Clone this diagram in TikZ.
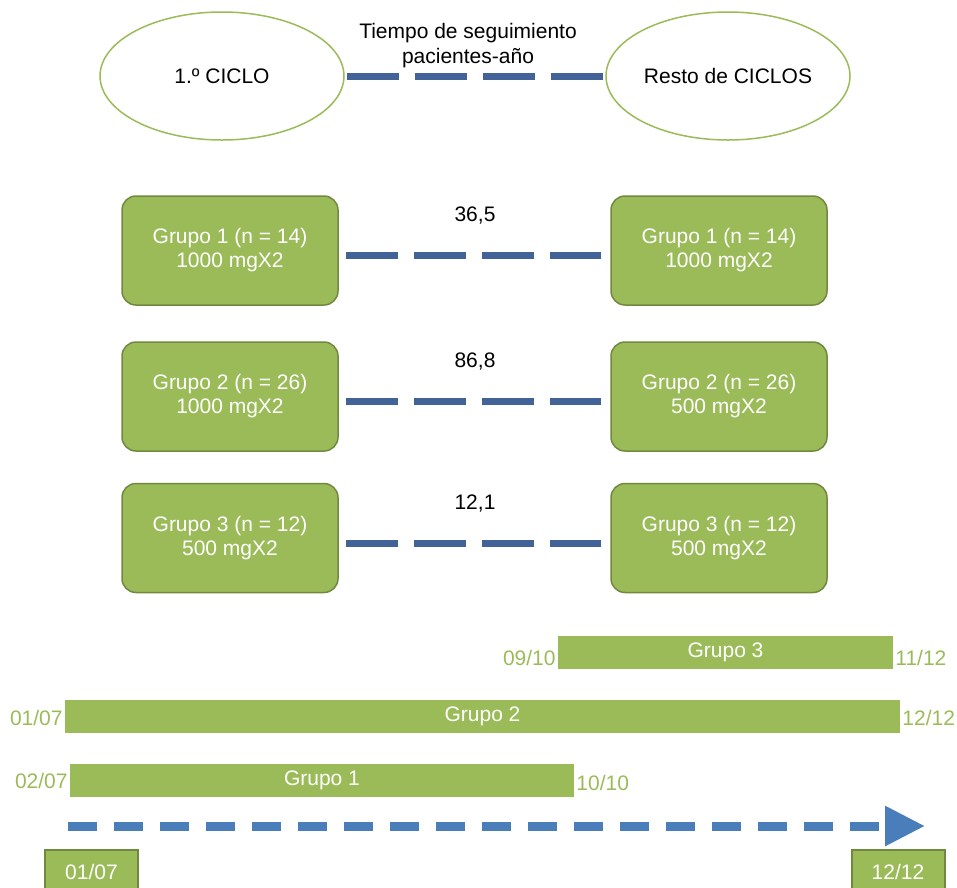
\documentclass[tikz,border=0pt]{standalone}
\usepackage{fontspec}
\setmainfont{Liberation Sans}
\usepackage{tikz}
\usetikzlibrary{arrows.meta,shapes.geometric}
\definecolor{verde}{HTML}{9BBB59}
\definecolor{verdeborde}{HTML}{71893F}
\definecolor{azulguion}{RGB}{65,99,152}
\definecolor{azulflecha}{RGB}{74,126,187}

\begin{document}
\begin{tikzpicture}[x=1pt,y=-1pt,font=\fontsize{21}{24}\selectfont]
  \tikzstyle{ciclo}=[ellipse,draw=verde,line width=1.5pt,inner sep=0pt,minimum width=244pt,minimum height=128pt]
  \tikzstyle{grupo}=[draw=verdeborde,fill=verde,line width=1.5pt,rounded corners=14pt,minimum width=216pt,minimum height=109pt,text=white,align=center]
  \tikzstyle{seguimiento}=[azulguion,line width=7pt,dash pattern=on 52pt off 16pt]
  \tikzstyle{barra}=[fill=verde,text=white,minimum height=33pt,inner sep=0pt]
  \tikzstyle{fecha}=[text=verde,inner sep=2pt]
  \tikzstyle{fechabox}=[draw=verdeborde,fill=verde,line width=2pt,text=white,minimum width=93pt,minimum height=44pt]
  \useasboundingbox (0,0) rectangle (957,887);
  \clip (0,0) rectangle (957,887);
  \node[ciclo] (c1) at (222,76) {1.º CICLO};
  \node[ciclo] (cr) at (728,76) {Resto de CICLOS};
  \node[align=center,font=\fontsize{21}{25}\selectfont] (titulo) at (468,46) {Tiempo de seguimiento\\pacientes-año};
  \draw[seguimiento,shorten <=2pt,shorten >=2pt] (c1) -- (cr);
  \foreach \n/\y/\m/\da/\db/\dato in {1/250.5/14/1000/1000/{36,5},2/396.5/26/1000/500/{86,8},3/538/12/500/500/{12,1}}{
    \node[grupo] (g\n a) at (230,\y) {Grupo \n\ (n = \m)\\\da\ mgX2};
    \node[grupo] (g\n b) at (719,\y) {Grupo \n\ (n = \m)\\\db\ mgX2};
    \node (d\n) at (475,\y-35) {\dato};
    \draw[seguimiento,shorten <=7pt,shorten >=9pt] ([yshift=-5pt]g\n a.east) -- ([yshift=-5pt]g\n b.west);
  }
  \node[barra,minimum width=335pt] (b3) at (725.5,652.5) {Grupo 3};
  \node[barra,minimum width=835pt] (b2) at (482.5,716) {Grupo 2};
  \node[barra,minimum width=504pt] (b1) at (322,780.5) {Grupo 1};
  \node[fecha,anchor=east] (f3a) at ([yshift=-5pt]b3.west) {09/10};
  \node[fecha,anchor=west] (f3b) at ([yshift=-5pt]b3.east) {11/12};
  \node[fecha,anchor=east] (f2a) at ([yshift=-2pt]b2.west) {01/07};
  \node[fecha,anchor=west] (f2b) at ([yshift=-2pt]b2.east) {12/12};
  \node[fecha,anchor=east] (f1a) at (b1.west) {02/07};
  \node[fecha,anchor=west] (f1b) at ([yshift=-2pt]b1.east) {10/10};
  \coordinate (t0) at (68,826);
  \coordinate (t1) at (925,826);
  \draw[azulflecha,line width=9pt,dash pattern=on 29pt off 17pt,-{Triangle[length=40pt,width=38pt]}] (t0) -- (t1);
  \node[fechabox] (i0) at (91.5,872) {01/07};
  \node[fechabox] (i1) at (898,872) {12/12};
\end{tikzpicture}
\end{document}
